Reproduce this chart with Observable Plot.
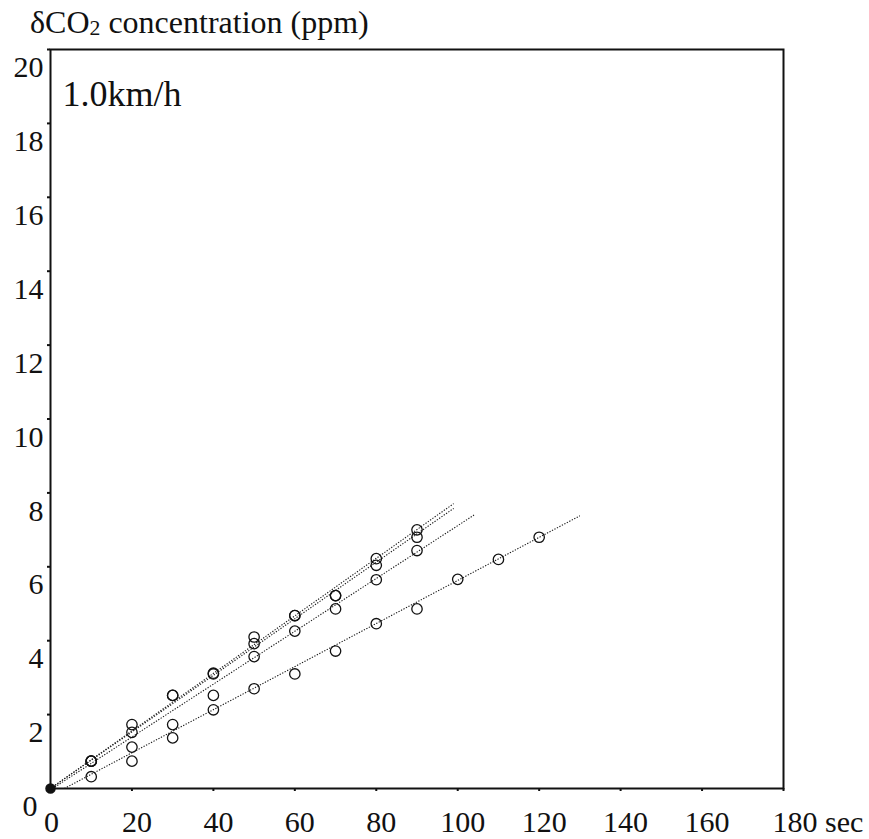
<!DOCTYPE html>
<html>
<head>
<meta charset="utf-8">
<script src="https://cdn.jsdelivr.net/npm/d3@7"></script>
<script src="https://cdn.jsdelivr.net/npm/@observablehq/plot@0.6"></script>
<style>
  html, body { margin: 0; padding: 0; background: #fff; }
  #wrap { position: relative; width: 869px; height: 839px; }
  #title {
    position: absolute; left: 30px; top: 6px; margin: 0;
    font-family: "Liberation Serif", "Times New Roman", serif;
    font-size: 32px; line-height: 32px; color: #111; white-space: nowrap; z-index: 2;
  }
  #title .sub { font-size: 0.68em; position: relative; top: 2px; }
  #chart { position: absolute; left: 0; top: 0; }
</style>
</head>
<body>
<div id="wrap">
  <div id="title">δCO<span class="sub">2</span> concentration (ppm)</div>
  <div id="chart"></div>
</div>
<script>
// ---- data ----
const seriesNames = ["A", "B", "C", "D"];
const timeA = [10, 20, 30, 40, 50, 60, 70, 80, 90];
const co2A  = [0.74, 1.73, 2.52, 3.12, 4.10, 4.68, 5.22, 6.22, 7.00];
const timeB = [10, 20, 30, 40, 50, 60, 70, 80, 90];
const co2B  = [0.74, 1.52, 2.52, 3.10, 3.92, 4.68, 5.22, 6.04, 6.80];
const timeC = [10, 20, 30, 40, 50, 60, 70, 80, 90];
const co2C  = [0.74, 1.12, 1.73, 2.52, 3.57, 4.26, 4.86, 5.65, 6.44];
const timeD = [10, 20, 30, 40, 50, 60, 70, 80, 90, 100, 110, 120];
const co2D  = [0.32, 0.74, 1.37, 2.13, 2.70, 3.10, 3.72, 4.46, 4.86, 5.66, 6.20, 6.80];

// fitted regression lines (start / end of each drawn segment)
const fitStartT = [0, 0, 0.5, 3.4];
const fitStartV = [0, 0, 0, 0];
const fitEndT   = [99, 99, 104, 130];
const fitEndV   = [7.71, 7.58, 7.40, 7.38];

const xTicks = [0, 20, 40, 60, 80, 100, 120, 140, 160, 180];
const xTickLabels = [20, 40, 60, 80, 100, 120, 140, 160];
const yTicks = [0, 2, 4, 6, 8, 10, 12, 14, 16, 18, 20];
const yTickLabels = [2, 4, 6, 8, 10, 12, 14, 16, 18, 20];
const speedLabel = "1.0km/h";
const xUnit = "sec";

// ---- tables ----
const times = [timeA, timeB, timeC, timeD];
const values = [co2A, co2B, co2C, co2D];
const points = seriesNames.flatMap((s, i) =>
  times[i].map((t, j) => ({series: s, t, v: values[i][j]})));
const fits = seriesNames.map((s, i) => ({
  series: s, t1: fitStartT[i], v1: fitStartV[i], t2: fitEndT[i], v2: fitEndV[i]
}));

const serif = "'Liberation Serif', 'Times New Roman', serif";

const chart = Plot.plot({
  width: 869,
  height: 839,
  marginLeft: 50,
  marginRight: 86,
  marginTop: 49,
  marginBottom: 51,
  x: {domain: [0, 180], label: null},
  y: {domain: [0, 20], label: null},
  style: {fontFamily: serif, fontSize: "30px", color: "#111", background: "white", overflow: "visible"},
  marks: [
    // fitted lines
    Plot.link(fits, {x1: "t1", y1: "v1", x2: "t2", y2: "v2",
      stroke: "#1a1a1a", strokeWidth: 1.1, strokeDasharray: "1.3,1.5"}),
    // measured points
    Plot.dot(points, {x: "t", y: "v", r: 5.2, stroke: "#111", strokeWidth: 1.3, fill: "none"}),
    // origin marker
    Plot.dot([0], {x: d => d, y: d => d, r: 4.5, fill: "#111", stroke: "#111"}),
    // frame
    Plot.frame({stroke: "#111", strokeWidth: 2}),
    // ticks
    Plot.axisX({ticks: xTicks, tickSize: 3, fill: "none", strokeWidth: 2}),
    Plot.axisY({ticks: yTicks, tickSize: 3, fill: "none", strokeWidth: 2}),
    // tick labels
    Plot.axisX({ticks: xTickLabels, tickSize: 0, tickPadding: 22, dx: 5, fontSize: 30, fill: "#111"}),
    Plot.text([0], {x: d => d, frameAnchor: "bottom", dy: 43, dx: 1, lineAnchor: "bottom",
      text: d => String(d), fontSize: 30, fill: "#111"}),
    Plot.text([180], {x: d => d, frameAnchor: "bottom", dy: 43, dx: -11, lineAnchor: "bottom",
      textAnchor: "start", text: d => `${d} ${xUnit}`, fontSize: 30, fill: "#111"}),
    Plot.axisY({ticks: yTickLabels, tickSize: 0, tickPadding: 7, dy: 18, fontSize: 30, fill: "#111"}),
    Plot.text([0], {y: d => d, frameAnchor: "left", dx: -13, dy: 27, lineAnchor: "bottom",
      textAnchor: "end", text: d => String(d), fontSize: 30, fill: "#111"}),
    // speed annotation
    Plot.text([speedLabel], {frameAnchor: "top-left", dx: 12, dy: 56, lineAnchor: "bottom",
      textAnchor: "start", text: d => d, fontSize: 36, fill: "#111"})
  ]
});
document.getElementById("chart").appendChild(chart);
</script>
</body>
</html>
